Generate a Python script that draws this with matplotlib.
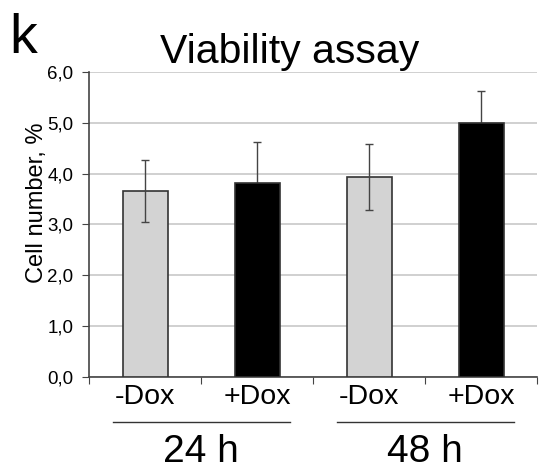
import matplotlib
matplotlib.use("Agg")
import matplotlib.pyplot as plt
import numpy as np

plt.rcParams['font.family'] = ['Liberation Sans', 'DejaVu Sans']

categories = ["-Dox", "+Dox", "-Dox", "+Dox"]
groups = ["24 h", "48 h"]
values = [3.65, 3.82, 3.94, 5.0]
errors = [0.61, 0.81, 0.65, 0.62]
colors = ["#d3d3d3", "#000000", "#d3d3d3", "#000000"]
yticks = [0.0, 1.0, 2.0, 3.0, 4.0, 5.0, 6.0]
ytick_labels = ["0,0", "1,0", "2,0", "3,0", "4,0", "5,0", "6,0"]

fig = plt.figure(figsize=(5.4, 4.73), dpi=100)
ax = fig.add_axes([0.165, 0.203, 0.83, 0.645])

x = np.arange(len(categories))
ax.bar(x, values, width=0.4, color=colors, edgecolor="#333333", linewidth=1.2, zorder=3)

# error bars: light bars show the whole bar, dark bars hide the lower half
light = [i for i, c in enumerate(colors) if c != "#000000"]
dark = [i for i, c in enumerate(colors) if c == "#000000"]
ax.errorbar(x[light], np.array(values)[light], yerr=np.array(errors)[light], fmt="none",
            ecolor="#444444", elinewidth=1.0, capsize=3, capthick=1.0, zorder=4)
ax.errorbar(x[dark], np.array(values)[dark], yerr=np.array(errors)[dark], fmt="none",
            ecolor="#444444", elinewidth=1.0, capsize=3, capthick=1.0, zorder=2)

ax.set_xlim(-0.5, len(categories) - 0.5)
ax.set_ylim(0, 6.0)
ax.set_yticks(yticks)
ax.set_yticklabels(ytick_labels, fontsize=13.5)
ax.yaxis.grid(True, color="#c8c8c8", linewidth=1.2, zorder=0)
ax.set_axisbelow(True)

ax.set_xticks(np.arange(-0.5, len(categories), 1.0))
ax.set_xticklabels([])
ax.tick_params(axis="x", direction="out", length=5, color="#444444")
ax.tick_params(axis="y", direction="out", length=5, color="#444444", pad=6.5)

for s in ["top", "right"]:
    ax.spines[s].set_visible(False)
for s in ["left", "bottom"]:
    ax.spines[s].set_color("#444444")
    ax.spines[s].set_linewidth(1.2)

trans = ax.get_xaxis_transform()
for i, c in enumerate(categories):
    ax.text(x[i], -0.066, c, transform=trans, ha="center", va="center", fontsize=20.5)

for g_i, g in enumerate(groups):
    x0 = 2 * g_i - 0.29
    x1 = 2 * g_i + 1.29
    ax.plot([x0, x1], [-0.1475, -0.1475], transform=trans, color="#333333",
            linewidth=1.0, clip_on=False)
    ax.text(2 * g_i + 0.5, -0.246, g, transform=trans, ha="center", va="center", fontsize=28)

fig.text(0.069, 0.571, "Cell number, %", rotation=90, ha="center", va="center", fontsize=17)
fig.text(0.537, 0.866, "Viability assay", ha="center", va="baseline", fontsize=29.5)
fig.text(0.018, 0.888, "k", ha="left", va="baseline", fontsize=40)

fig.savefig("out.png", dpi=100)
